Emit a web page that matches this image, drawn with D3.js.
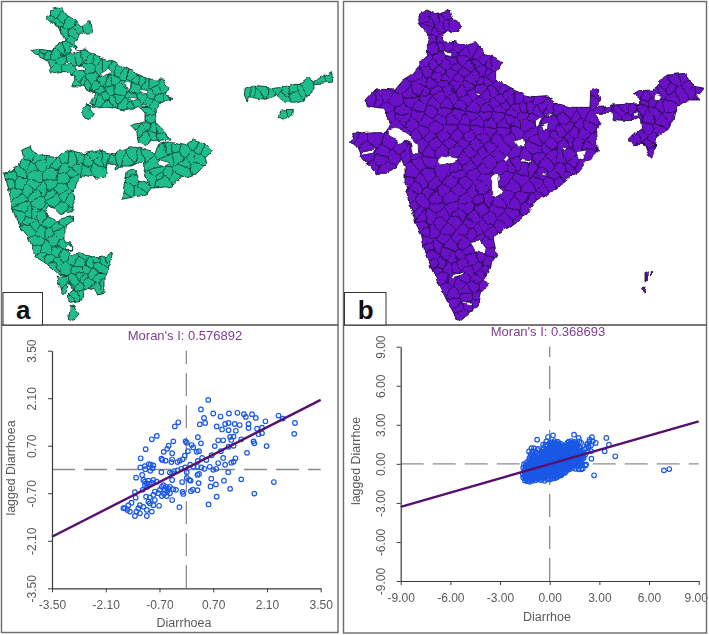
<!DOCTYPE html>
<html><head><meta charset="utf-8">
<script src="https://cdn.jsdelivr.net/npm/d3@7"></script>
<style>html,body{margin:0;padding:0;background:#fff;overflow:hidden}svg{display:block;filter:blur(0.35px)}text{font-family:"Liberation Sans",Arial,sans-serif}</style>
</head><body><svg id="c" width="709" height="635"></svg>
<script>
// ---------- Map a: hotspot districts (map units) ----------
const mapAParts = [
 [[150,30],[185,20],[190,40],[225,60],[240,80],[270,62],[280,98],[240,100],[225,125],[235,140],[225,155],[255,150],[290,170],[335,185],[360,195],[395,215],[435,232],[465,240],[490,240],[510,268],[495,280],[518,298],[480,308],[465,325],[470,370],[495,395],[510,420],[470,425],[450,420],[440,438],[415,425],[410,395],[392,375],[435,365],[435,340],[420,320],[370,330],[330,320],[280,325],[270,310],[285,280],[250,262],[215,260],[225,240],[205,215],[175,215],[155,220],[140,180],[110,165],[92,150],[120,145],[155,150],[180,135],[195,120],[175,80],[150,65],[140,55],[155,45]],
 [[262,310],[272,320],[270,330],[280,345],[270,358],[255,355],[248,340],[250,325]],
 [[735,268],[760,258],[820,265],[845,262],[885,250],[905,250],[925,235],[940,245],[970,228],[995,215],[998,245],[965,250],[940,250],[930,285],[905,305],[875,310],[850,305],[830,285],[800,298],[770,295],[745,290],[742,305],[733,285]],
 [[842,330],[880,328],[878,345],[860,355],[848,360],[838,350]],
 [[65,450],[90,440],[95,455],[125,465],[175,470],[195,450],[245,462],[295,452],[320,460],[345,465],[360,450],[395,440],[440,450],[465,462],[480,432],[520,425],[560,435],[580,420],[625,440],[640,455],[615,470],[620,490],[590,520],[540,535],[510,560],[450,565],[440,585],[405,590],[365,598],[375,545],[382,512],[405,510],[418,540],[445,548],[432,510],[430,480],[395,498],[360,498],[342,510],[345,490],[325,490],[315,530],[290,535],[250,525],[235,545],[220,570],[225,605],[215,635],[180,640],[165,625],[145,620],[135,645],[165,660],[220,648],[222,660],[195,680],[195,725],[215,730],[215,750],[200,752],[215,770],[240,755],[262,770],[300,770],[338,760],[330,795],[315,830],[315,880],[290,885],[280,865],[250,875],[245,900],[210,908],[208,880],[220,870],[205,845],[200,880],[190,880],[168,830],[205,825],[180,825],[150,800],[130,785],[105,770],[85,710],[60,680],[35,610],[15,520],[50,500],[70,470]],
 [[212,918],[225,915],[237,945],[222,962],[205,955]]
];
const mapAHoles = [
 [[225,198],[250,195],[255,210],[235,212]],[[300,222],[325,205],[335,215],[315,228]],[[372,245],[390,250],[388,268],[375,265]],
 [[420,268],[445,272],[440,282],[425,278]],[[385,290],[415,295],[400,303]],[[425,310],[440,315],[430,320]],
 [[205,138],[243,155],[215,163]],[[195,185],[210,190],[200,198]],[[480,478],[508,490],[490,498],[475,490]],[[198,736],[212,734],[212,748],[200,748]]
];
const mapASeeds = [[165,40],[170,70],[205,70],[195,100],[235,85],[260,80],[215,120],[110,155],[145,165],[180,150],[155,190],[185,180],[215,175],[255,165],[285,185],[320,200],[265,200],[240,235],[275,240],[355,215],[395,225],[425,245],[345,240],[310,245],[260,250],[300,270],[330,270],[360,270],[405,265],[460,255],[490,265],[450,285],[480,295],[300,300],[340,300],[375,310],[410,310],[445,305],[265,335],[450,355],[420,390],[460,385],[490,405],[435,415],[755,275],[790,275],[815,280],[860,270],[890,285],[920,265],[965,238],[985,230],[855,340],[870,340],[85,460],[80,500],[125,490],[170,490],[215,480],[260,480],[300,480],[295,510],[360,475],[400,465],[440,465],[505,445],[555,450],[600,445],[530,475],[575,475],[595,500],[545,510],[505,520],[460,495],[455,535],[400,540],[385,575],[420,575],[490,545],[35,530],[60,515],[105,530],[150,525],[195,530],[240,505],[45,580],[85,570],[130,565],[180,570],[210,600],[190,625],[70,620],[115,605],[160,600],[85,660],[125,650],[170,680],[125,700],[90,690],[160,720],[115,745],[145,775],[185,730],[175,790],[200,800],[235,790],[270,790],[310,780],[240,830],[280,820],[310,850],[265,850],[235,860],[225,890],[195,850],[220,940],
 [150,50],[185,55],[175,100],[220,100],[205,140],[125,165],[165,165],[135,150],[170,205],[200,205],[235,170],[270,180],[300,200],[335,205],[370,225],[410,240],[250,245],[225,250],[290,255],[325,250],[375,255],[440,255],[470,270],[500,290],[280,295],[315,290],[355,295],[395,290],[430,295],[465,315],[320,310],[395,320],[445,340],[405,375],[440,375],[480,385],[455,410],[850,285],[875,265],[905,275],[775,285],[745,275],[830,270],[120,475],[150,480],[195,478],[240,475],[280,465],[320,475],[335,480],[380,480],[420,470],[485,450],[525,445],[580,435],[615,450],[510,480],[555,490],[600,480],[525,530],[470,515],[480,530],[430,560],[395,515],[375,590],[30,550],[25,505],[60,550],[90,505],[100,555],[150,555],[190,505],[215,520],[255,510],[60,600],[105,585],[150,580],[195,590],[225,545],[200,640],[85,640],[60,650],[105,640],[145,635],[100,680],[150,665],[195,660],[145,700],[110,725],[140,745],[180,700],[170,755],[130,770],[190,770],[160,800],[220,780],[255,765],[290,780],[325,775],[235,810],[260,810],[295,800],[250,835],[295,835],[285,860],[225,840],[205,865],[240,885],[215,900]];

// ---------- Map b: all districts ----------
const mapBParts = [
 [[237,40],[262,30],[285,42],[330,30],[340,62],[365,75],[355,97],[320,92],[305,105],[315,122],[345,125],[380,135],[410,128],[435,160],[460,172],[495,188],[470,210],[470,240],[510,265],[555,285],[590,292],[625,290],[650,310],[700,322],[750,322],[752,272],[775,265],[782,300],[768,322],[815,320],[815,340],[790,340],[760,340],[780,365],[770,400],[775,450],[735,490],[715,515],[700,525],[650,565],[590,600],[545,655],[510,680],[460,710],[470,770],[455,790],[445,820],[430,840],[445,855],[425,875],[415,915],[395,935],[365,960],[345,950],[310,880],[285,830],[255,760],[245,710],[225,660],[205,600],[195,540],[195,500],[185,475],[165,505],[135,520],[115,520],[75,490],[60,470],[60,462],[50,440],[32,425],[42,400],[65,398],[100,395],[135,395],[150,375],[130,325],[82,318],[78,300],[105,270],[130,268],[165,270],[190,240],[215,225],[235,200],[245,180],[262,165],[262,135],[272,118],[255,90],[237,70]],
 [[815,312],[895,308],[905,298],[880,280],[900,272],[940,270],[955,245],[985,225],[1035,220],[1060,255],[1090,262],[1085,285],[1065,282],[1080,300],[1040,300],[1010,320],[1000,355],[985,385],[950,410],[945,445],[935,475],[925,465],[910,425],[895,440],[875,438],[865,420],[885,400],[905,385],[900,350],[870,365],[820,362],[815,340]],
 [[915,818],[922,815],[920,845],[915,845]],[[930,815],[936,815],[932,832]],[[908,865],[918,865],[913,878]]
];
const mapBHoles = [
 [[310,155],[335,155],[335,170],[315,165]],[[405,272],[425,275],[420,282]],
 [[145,390],[170,385],[200,395],[220,420],[235,435],[235,462],[220,460],[215,430],[190,420],[180,435],[170,420],[145,405]],
 [[62,458],[105,445],[95,460],[64,465]],[[290,480],[305,465],[355,475],[345,488],[300,495]],[[545,358],[555,362],[548,365]],
 [[585,365],[610,350],[600,375],[590,385]],[[620,338],[645,345],[625,348]],[[605,378],[628,370],[625,388],[608,388]],
 [[520,420],[550,415],[555,440],[535,440]],[[490,480],[505,462],[510,475],[498,488]],[[545,475],[570,480],[572,487],[545,485]],
 [[670,440],[680,445],[672,458]],[[705,455],[740,450],[730,480],[712,475]],[[592,525],[610,518],[628,528],[605,525]],
 [[455,525],[475,520],[480,565],[488,570],[475,590],[455,585]],[[390,725],[420,720],[438,745],[435,762],[405,752]],
 [[330,830],[375,815],[365,828],[335,836]],[[365,908],[395,905],[385,918]],[[945,282],[962,290],[955,302],[942,300]],[[880,340],[900,335],[895,348],[882,348]]
];
const mapBSeeds = [[255,50],[285,60],[320,50],[265,85],[300,80],[340,75],[275,115],[305,115],[285,145],[320,140],[355,145],[395,150],[430,180],[460,195],[260,180],[295,175],[335,185],[370,180],[410,190],[445,215],[225,225],[265,215],[300,210],[335,220],[370,215],[405,225],[440,245],[475,255],[190,260],[235,265],[275,250],[310,250],[345,255],[385,255],[420,265],[460,275],[500,285],[535,300],[115,300],[165,305],[215,305],[260,295],[300,290],[340,295],[380,300],[420,305],[460,310],[495,315],[530,325],[570,320],[610,315],[650,330],[690,340],[730,340],[145,350],[190,355],[235,345],[275,335],[315,335],[355,340],[395,345],[435,345],[475,350],[510,360],[545,345],[580,350],[640,370],[680,380],[720,370],[755,355],[60,420],[105,420],[150,430],[85,470],[125,480],[160,470],[200,400],[250,395],[290,380],[330,385],[370,385],[410,390],[450,395],[490,395],[530,395],[570,400],[610,410],[650,410],[690,420],[735,400],[760,420],[200,465],[245,440],[285,430],[330,430],[370,430],[410,435],[450,440],[490,440],[530,455],[580,445],[620,445],[660,470],[700,490],[745,460],[215,510],[260,480],[370,475],[410,480],[450,485],[530,490],[575,510],[620,490],[665,510],[225,560],[265,530],[310,520],[355,520],[400,525],[440,540],[500,530],[545,540],[590,550],[630,550],[680,530],[225,620],[265,580],[310,570],[355,570],[400,575],[440,600],[500,590],[550,590],[600,590],[250,650],[290,620],[335,620],[380,620],[425,630],[470,630],[520,640],[560,625],[260,700],[300,670],[345,665],[390,670],[435,680],[480,680],[270,740],[310,715],[355,710],[395,700],[445,730],[285,790],[320,760],[360,765],[400,780],[445,785],[305,830],[345,800],[385,815],[425,820],[320,870],[360,850],[400,860],[430,860],[345,910],[380,890],[405,915],[365,940],[770,290],[790,320],[840,335],[875,330],[905,325],[920,295],[945,280],[975,250],[1010,240],[1045,260],[1070,275],[1000,290],[960,320],[930,350],[970,360],[920,390],[955,395],[890,415],[925,430],[940,455],
 [270,65],[305,60],[285,95],[320,75],[300,140],[340,160],[375,160],[415,165],[445,195],[280,195],[315,195],[350,200],[390,200],[425,210],[455,230],[245,245],[290,230],[320,235],[355,235],[390,240],[425,245],[490,270],[210,280],[255,275],[290,270],[325,270],[365,275],[400,285],[440,290],[480,295],[515,300],[560,300],[600,300],[135,285],[95,300],[140,325],[190,330],[235,320],[280,312],[320,312],[360,318],[400,322],[440,325],[478,330],[515,340],[550,320],[590,335],[630,325],[670,355],[710,355],[170,375],[215,375],[260,365],[300,358],[335,360],[375,362],[415,368],[455,372],[492,372],[530,370],[560,375],[660,395],[700,400],[745,380],[225,405],[270,410],[310,405],[350,408],[390,410],[430,415],[470,418],[510,420],[590,420],[630,430],[670,435],[715,430],[745,440],[40,410],[80,440],[130,455],[100,500],[140,505],[175,445],[225,465],[265,455],[305,452],[350,450],[390,455],[430,460],[470,465],[510,500],[555,465],[600,470],[640,470],[680,460],[720,500],[240,490],[350,505],[390,500],[430,505],[490,505],[555,510],[600,520],[645,530],[690,505],[210,545],[245,545],[285,550],[330,545],[378,550],[420,560],[520,560],[565,565],[610,570],[655,545],[210,590],[245,600],[285,595],[330,595],[378,598],[420,600],[475,610],[525,615],[575,600],[235,635],[270,650],[312,645],[358,645],[402,650],[448,655],[495,660],[535,665],[245,680],[280,695],[322,690],[368,690],[412,695],[455,700],[260,720],[290,740],[332,735],[375,735],[420,715],[450,760],[275,770],[300,790],[340,775],[380,750],[425,770],[295,810],[325,805],[365,790],[410,800],[440,810],[335,835],[372,835],[410,835],[338,880],[380,870],[415,885],[355,925],[385,920],[800,330],[855,320],[890,345],[860,350],[830,350],[915,310],[895,290],[935,305],[990,265],[960,275],[1030,235],[1060,275],[1020,280],[985,320],[945,340],[985,350],[905,405],[940,415],[875,425],[905,440],[765,300]];

// ---------- Moran scatter a ----------
const moranTitleA = "Moran's I: 0.576892", moranTitleB = "Moran's I: 0.368693";
const xLabelA = "Diarrhoea", yLabelA = "lagged Diarrhoea", xLabelB = "Diarrhoe", yLabelB = "lagged Diarrhoe";
const ticksA = [-3.5,-2.1,-0.7,0.7,2.1,3.5];
const ticksB = [-9,-6,-3,0,3,6,9];
const fitA = [[-3.5,-1.98],[3.5,2.05]];
const fitB = [[-9,-3.3],[9,3.27]];
const scatterA = [[.57,2.05],[.38,1.77],[.70,1.65],[.89,1.56],[1.11,1.65],[1.33,1.67],[1.50,1.63],[1.55,1.55],[1.71,1.63],[1.81,1.52],[2.40,1.59],[2.51,1.50],[2.83,1.37],[2.81,1.05],[2.06,1.42],[1.97,1.23],[1.84,1.20],[1.97,1.07],[1.88,1.04],[1.75,.83],[1.77,.77],[2.09,.69],[1.58,.49],[.46,1.52],[.49,1.37],[.35,1.33],[-.21,1.39],[-.30,1.27],[-.77,.99],[-.90,.89],[.79,1.27],[.93,1.18],[1.01,1.34],[1.10,1.37],[1.26,1.34],[1.39,1.31],[1.62,1.34],[1.62,1.22],[1.29,1.14],[1.10,1.16],[1.23,.97],[1.14,.96],[1.17,.87],[1.43,.89],[.83,.86],[.96,.86],[.30,.95],[.38,.77],[-.02,.83],[.01,.79],[.14,.72],[.18,.65],[.04,.54],[.27,.52],[.33,.54],[.74,.69],[.90,.54],[1.10,.67],[1.23,.70],[.66,.42],[-.34,.83],[-.46,.70],[-.50,.61],[-1.06,.60],[-.59,.52],[-.37,.48],[-1.19,.33],[-.65,.32],[-.63,.28],[-.54,.26],[-.37,.30],[-.39,.22],[-.04,.41],[-.10,.30],[-.23,.22],[-.17,.26],[.30,.25],[.41,.34],[.52,.28],[.96,.34],[1.28,.33],[.83,.19],[1.01,.14],[1.17,.20],[1.23,.23],[.61,.08],[.78,.02],[.70,-.01],[-1.20,.06],[-1.08,.10],[-.98,.16],[-.93,.14],[-.86,.12],[-.88,.04],[-.94,-.04],[-1.07,.01],[-.65,-.08],[-1.31,-.24],[-1.15,-.16],[-.37,-.11],[-.43,-.09],[-.32,-.05],[-.23,-.03],[-.13,.02],[-.03,.06],[.10,.14],[.19,.08],[.29,.08],[.39,.06],[.47,.02],[1.09,-.08],[.01,-.08],[.29,-.16],[.33,-.13],[.08,-.31],[.11,-.33],[.01,-.25],[-.11,-.37],[-.37,-.31],[.32,-.40],[.65,-.27],[.98,-.33],[1.43,-.29],[2.28,-.37],[.77,-.44],[.63,-.50],[1.14,-.57],[.17,-.59],[.12,-.64],[.29,-.61],[-.10,-.66],[-.08,-.72],[.79,-.80],[1.77,-.71],[.58,-1.03],[-.18,-1.11],[-1.12,-.31],[-1.08,-.36],[-1.03,-.41],[-.99,-.33],[-1.08,-.46],[-1.02,-.51],[-.95,-.44],[-.90,-.39],[-.86,-.31],[-.77,-.36],[-1.14,-.60],[-1.34,-.67],[-1.32,-.83],[-1.43,-.98],[-1.51,-1.05],[-.60,-.46],[-.53,-.51],[-.47,-.56],[-.43,-.51],[-.56,-.60],[-.50,-.65],[-.43,-.70],[-.58,-.72],[-.64,-.78],[-.51,-.78],[-.37,-.90],[-.69,-.60],[-.73,-.70],[-.82,-.65],[-.86,-.75],[-.95,-.82],[-.99,-.95],[-1.05,-.80],[-.82,-.90],[-.71,-1.07],[-.86,-1.05],[-.95,-1.00],[-1.03,-1.19],[-1.12,-1.10],[-1.21,-1.05],[-1.25,-1.14],[-1.30,-1.24],[-1.21,-1.29],[-1.34,-1.37],[-1.47,-1.24],[-1.60,-1.14],[-1.64,-1.14],[-1.54,-1.19],[-1.03,-1.37],[-.90,-1.24],[-.34,-.58],[-.27,-.60],[-.64,-.51]];

// ---------- Moran scatter b ----------
const scatterB = [[3.42,1.99],[3.58,1.47],[3.32,.96],[3.96,.58],[2.52,.40],[2.68,-.88],[6.9,-.5],[7.22,-.4],[2.41,1.86],[2.55,2.05],[1.47,2.24],[1.75,1.99],[.2,2.19],[-.1,2.06],[-.76,1.86],[-.4,1.47],[-1.1,1.2],[2.78,1.6],
[-1.5,-1.28],[-1.35,-1.33],[-1.2,-1.38],[-1.05,-1.3],[-.85,-1.26],[-.55,-1.24],[-.3,-1.3],[0,-1.2],[.3,-1.1],
[-1.6,-1.05],[-1.42,-1.1],[-1.25,-1.02],[-1.1,-1.08],[-.92,-1.04],[-.75,-1.1],[-.6,-1],[-.42,-1.06],[-.25,-1.02],[-.08,-1.08],[.1,-1],[.27,-.98],[.42,-1.04],[.58,-.92],
[-1.62,-.82],[-1.47,-.76],[-1.3,-.84],[-1.15,-.78],[-.98,-.82],[-.82,-.74],[-.66,-.84],[-.5,-.78],[-.33,-.8],[-.17,-.74],[0,-.82],[.16,-.76],[.33,-.84],[.5,-.78],[.7,-.8],[.85,-.7],
[-1.55,-.55],[-1.38,-.6],[-1.2,-.52],[-1.04,-.58],[-.87,-.54],[-.7,-.6],[-.55,-.52],[-.38,-.56],[-.2,-.5],[-.03,-.58],[.13,-.52],[.3,-.56],[.47,-.5],[.64,-.58],[.8,-.52],[.98,-.56],[1.1,-.46],
[-1.6,-.3],[-1.42,-.26],[-1.25,-.34],[-1.08,-.28],[-.93,-.32],[-.76,-.26],[-.6,-.33],[-.43,-.27],[-.26,-.3],[-.1,-.25],[.08,-.32],[.24,-.28],[.4,-.33],[.57,-.26],[.74,-.3],[.9,-.25],[1.06,-.32],[1.22,-.27],[1.4,-.3],[1.75,-.42],[2.0,-.36],[2.15,-.12],
[-1.55,-.03],[-1.36,-.08],[-1.18,0],[-1,-.06],[-.84,-.02],[-.68,-.07],[-.5,-.01],[-.33,-.05],[-.16,0],[.02,-.06],[.18,-.02],[.36,-.07],[.52,-.01],[.68,-.05],[.85,0],[1,-.06],[1.17,-.02],[1.34,-.07],[1.52,-.01],[1.7,-.05],[1.95,-.1],[2.2,-.05],
[-1.3,.2],[-1.12,.16],[-.95,.24],[-.78,.18],[-.6,.22],[-.44,.16],[-.27,.24],[-.1,.18],[.07,.22],[.24,.16],[.4,.24],[.57,.18],[.75,.22],[.92,.17],[1.08,.24],[1.25,.18],[1.42,.22],[1.6,.17],[1.78,.23],[1.9,.18],
[-1.22,.45],[-1.05,.42],[-.88,.48],[-.7,.43],[-.54,.47],[-.36,.42],[-.2,.48],[-.03,.44],[.14,.47],[.3,.41],[.48,.48],[.65,.43],[.82,.47],[.98,.42],[1.15,.48],[1.33,.44],[1.5,.47],[1.68,.42],[1.85,.48],[2.05,.44],
[-1.15,.72],[-.97,.68],[-.6,.72],[-.45,.67],[-.28,.73],[-.12,.68],[.05,.72],[.22,.67],[.4,.73],[.56,.68],[.73,.72],[.9,.67],[1.07,.73],[1.24,.68],[1.4,.72],[1.58,.67],[1.75,.73],[1.95,.68],[2.15,.72],
[-1.25,.95],[-1.05,.98],[-.85,.92],[-.5,.96],[-.35,.92],[-.15,.98],[0,.93],[.18,.97],[.35,.92],[.52,.98],[.68,.94],[.85,.97],[1,.92],[1.18,.98],[1.35,.93],[1.52,.97],[1.7,.92],[1.9,.98],[2.3,.94],[2.5,.98],
[-.95,1.2],[-.7,1.15],[-.38,1.22],[-.1,1.17],[.1,1.23],[.3,1.18],[.46,1.22],[.62,1.16],[.8,1.22],[.95,1.18],[1.12,1.23],[1.3,1.17],[1.47,1.22],[1.65,1.18],[1.85,1.23],[2.2,1.2],
[-.25,1.48],[.05,1.44],[.22,1.5],[.42,1.42],[.55,1.5],[.78,1.43],[1,1.42],[1.2,1.5],[1.35,1.44],[1.5,1.5],[1.7,1.45],[2.25,1.48],[2.5,1.42],
[-.2,1.72],[.12,1.66],[.3,1.74],[.5,1.68],[1.15,1.7],[1.3,1.74],[1.5,1.68],[1.8,1.72],[2.4,1.68],[2.6,1.74],
[-1.45,-1.17],[-1.28,-1.2],[-1.12,-1.16],[-.98,-1.19],[-.7,-1.17],[-.45,-1.16],[-.15,-1.18],[.12,-1.14],
[-1.52,-.93],[-1.36,-.9],[-1.2,-.94],[-1.02,-.91],[-.85,-.93],[-.68,-.9],[-.52,-.94],[-.34,-.91],[-.16,-.93],[0,-.9],[.18,-.93],[.35,-.9],[.5,-.92],[.7,-.88],
[-1.48,-.68],[-1.3,-.66],[-1.12,-.7],[-.95,-.67],[-.78,-.69],[-.62,-.66],[-.44,-.7],[-.26,-.67],[-.08,-.69],[.08,-.66],[.24,-.69],[.42,-.67],[.58,-.7],[.74,-.66],[.92,-.68],
[-1.5,-.42],[-1.3,-.44],[-1.14,-.4],[-.98,-.43],[-.8,-.41],[-.64,-.44],[-.46,-.4],[-.3,-.43],[-.12,-.41],[.04,-.44],[.2,-.4],[.38,-.43],[.54,-.41],[.72,-.44],[.88,-.4],[1.04,-.43],[1.2,-.41],[1.55,-.38],[1.9,-.42],
[-1.46,-.16],[-1.28,-.14],[-1.1,-.17],[-.92,-.14],[-.76,-.16],[-.58,-.13],[-.42,-.17],[-.24,-.14],[-.08,-.16],[.1,-.13],[.28,-.17],[.44,-.14],[.6,-.16],[.78,-.13],[.94,-.17],[1.1,-.14],[1.26,-.16],[1.44,-.13],[1.62,-.15],[1.84,-.14],
[-1.42,.08],[-1.22,.06],[-1.04,.09],[-.86,.07],[-.7,.1],[-.52,.06],[-.36,.09],[-.18,.07],[-.02,.1],[.16,.06],[.32,.09],[.48,.07],[.66,.1],[.84,.07],[1,.09],[1.16,.06],[1.34,.1],[1.5,.07],[1.7,.09],[1.86,.06],
[-1.18,.33],[-1,.31],[-.84,.34],[-.66,.32],[-.5,.35],[-.32,.31],[-.16,.34],[.02,.32],[.2,.35],[.36,.31],[.54,.34],[.7,.32],[.88,.35],[1.04,.31],[1.22,.34],[1.4,.32],[1.56,.35],[1.72,.31],[1.95,.33],
[-1.1,.58],[-.9,.56],[-.62,.6],[-.46,.57],[-.28,.59],[-.12,.56],[.06,.6],[.22,.57],[.38,.59],[.56,.56],[.72,.6],[.88,.57],[1.06,.59],[1.22,.56],[1.4,.6],[1.56,.57],[1.76,.59],[2,.56],
[-1.02,.84],[-.86,.8],[-.52,.85],[-.36,.81],[-.2,.84],[-.04,.8],[.14,.85],[.3,.81],[.48,.84],[.64,.8],[.82,.85],[.98,.81],[1.14,.84],[1.3,.8],[1.48,.85],[1.66,.81],[1.84,.84],[2.05,.8],
[-.75,1.06],[-.42,1.08],[-.24,1.05],[-.06,1.09],[.1,1.06],[.28,1.09],[.44,1.05],[.6,1.08],[.78,1.05],[.94,1.09],[1.1,1.05],[1.28,1.08],[1.44,1.05],[1.62,1.09],[1.8,1.06],[2.1,1.08],
[-.2,1.34],[.0,1.3],[.18,1.35],[.36,1.31],[.54,1.34],[.72,1.3],[.9,1.35],[1.08,1.31],[1.26,1.34],[1.44,1.31],[1.62,1.35],[1.8,1.3],[2.35,1.32],
[.0,1.6],[.2,1.58],[.38,1.62],[.66,1.56],[1.06,1.6],[1.24,1.57],[1.42,1.62],[1.62,1.58],[1.9,1.6],[2.3,1.56]];

// ---------- Drawing ----------
const svg = d3.select("#c");
const DARKLINE = "#3a3a3a", TICKTXT = "#5a5a5a", TITLE = "#7d3f92", LINE = "#57106e", DOT = "#1a58e6", DASH = "#8c8c8c", FRAME = "#6b6b6b";
const fmt = v => d3.format(".2f")(v).replace("\u2212", "-");

// hand-drawn border character for the map outlines
const defs = svg.append("defs");
const wob = defs.append("filter").attr("id", "wobble").attr("filterUnits", "userSpaceOnUse")
  .attr("x", 0).attr("y", 0).attr("width", 709).attr("height", 330).attr("color-interpolation-filters", "sRGB");
wob.append("feTurbulence").attr("type", "fractalNoise").attr("baseFrequency", 0.11).attr("numOctaves", 2).attr("seed", 4).attr("result", "n");
wob.append("feDisplacementMap").attr("in", "SourceGraphic").attr("in2", "n").attr("scale", 6).attr("xChannelSelector", "R").attr("yChannelSelector", "G");

function drawMap(id, parts, holes, seeds, fill, stroke, box, dom) {
  const x = d3.scaleLinear().domain([0, dom[0]]).range([box[0], box[0] + box[2]]);
  const y = d3.scaleLinear().domain([0, dom[1]]).range([box[1], box[1] + box[3]]);
  const line = d3.line().x(d => x(d[0])).y(d => y(d[1])).curve(d3.curveLinearClosed);
  const g = svg.append("g").attr("filter", "url(#wobble)");
  const cp = svg.append("clipPath").attr("id", id);
  parts.forEach(p => cp.append("path").attr("d", line(p)));
  g.selectAll("path.part").data(parts).join("path").attr("class", "part").attr("d", line).attr("fill", fill);
  const pts = seeds.map(s => [x(s[0]), y(s[1])]);
  const vor = d3.Delaunay.from(pts).voronoi([box[0], box[1], box[0] + box[2], box[1] + box[3]]);
  g.append("path").attr("d", vor.render()).attr("fill", "none").attr("stroke", stroke).attr("stroke-width", 0.85).attr("clip-path", `url(#${id})`);
  g.selectAll("path.edge").data(parts).join("path").attr("class", "edge").attr("d", line).attr("fill", "none").attr("stroke", stroke).attr("stroke-width", 0.9);
  g.selectAll("path.hole").data(holes).join("path").attr("class", "hole").attr("d", line).attr("fill", "#fff").attr("stroke", stroke).attr("stroke-width", 0.7);
}
drawMap("clipA", mapAParts, mapAHoles, mapASeeds, "#1fbd8b", "#0c3a2c", [0, 0, 339, 330], [1017, 990]);
drawMap("clipB", mapBParts, mapBHoles, mapBSeeds, "#6a10c6", "#1e0a3c", [340, 0, 369, 330], [1107, 990]);

function drawMoran(o) {
  const x = d3.scaleLinear().domain(o.dom).range(o.xr);
  const y = d3.scaleLinear().domain(o.dom).range(o.yr);
  const g = svg.append("g");
  g.append("line").attr("x1", x(o.dom[0])).attr("x2", x(o.dom[1])).attr("y1", y(0)).attr("y2", y(0))
    .attr("stroke", DASH).attr("stroke-width", 1.3).attr("stroke-dasharray", "23,9");
  g.append("line").attr("x1", x(0)).attr("x2", x(0)).attr("y1", y(o.dom[0])).attr("y2", y(o.dom[1]))
    .attr("stroke", DASH).attr("stroke-width", 1.3).attr("stroke-dasharray", "23,9");
  g.selectAll("circle").data(o.pts).join("circle").attr("cx", d => x(d[0])).attr("cy", d => y(d[1]))
    .attr("r", 2.3).attr("fill", "none").attr("stroke", DOT).attr("stroke-width", 1.2);
  g.append("path").attr("d", d3.line().x(d => x(d[0])).y(d => y(d[1]))(o.fit)).attr("stroke", LINE).attr("stroke-width", 2.4).attr("fill", "none");
  const ax = g.append("g").attr("transform", `translate(0,${o.yr[0]})`)
    .call(d3.axisBottom(x).tickValues(o.ticks).tickFormat(fmt).tickSize(4).tickSizeOuter(0));
  const ay = g.append("g").attr("transform", `translate(${o.xr[0]},0)`)
    .call(d3.axisLeft(y).tickValues(o.ticks).tickFormat(fmt).tickSize(4).tickSizeOuter(0));
  [ax, ay].forEach(a => {
    a.select(".domain").attr("stroke", DARKLINE).attr("stroke-width", 1.2);
    a.selectAll(".tick line").attr("stroke", DARKLINE).attr("stroke-width", 1);
    a.selectAll("text").attr("font-family", '"Liberation Sans",Arial,sans-serif').attr("font-size", 12).attr("fill", TICKTXT);
  });
  ax.selectAll("text").attr("dy", null).attr("y", 21).attr("dx", (d, i) => (o.lastShift && i === o.ticks.length - 1) ? -o.lastShift : 0);
  ay.selectAll("text").attr("text-anchor", "middle").attr("dy", null).attr("x", null).attr("y", null)
    .attr("transform", `translate(-16,0) rotate(-90)`);
  g.append("text").attr("x", o.titleX).attr("y", o.titleY).attr("text-anchor", "middle").attr("font-size", 13).attr("fill", TITLE).text(o.title);
  g.append("text").attr("x", o.titleX - 1).attr("y", o.xlabelY).attr("text-anchor", "middle").attr("font-size", 12.5).attr("fill", TICKTXT).text(o.xlabel);
  g.append("text").attr("transform", `translate(${o.ylabelX},${o.ylabelC}) rotate(-90)`).attr("text-anchor", "middle").attr("font-size", 12.4).attr("fill", TICKTXT).text(o.ylabel);
}
drawMoran({dom:[-3.5,3.5], xr:[52,320.7], yr:[588.3,350.7], ticks:ticksA, pts:scatterA, fit:fitA, title:moranTitleA, titleX:185, titleY:339.5, xlabel:xLabelA, xlabelY:627, ylabel:yLabelA, ylabelX:15, ylabelC:468});
drawMoran({dom:[-9,9], xr:[400.7,698.7], yr:[581,346.7], ticks:ticksB, pts:scatterB, fit:fitB, title:moranTitleB, titleX:548, titleY:336, xlabel:xLabelB, xlabelY:620.5, ylabel:yLabelB, ylabelX:360, ylabelC:461, lastShift:3});

// frames
const frames = [[1.5,1.5,336.5,323.5],[1.5,325,336.5,307.5],[343.5,1.5,363,323.5],[343.5,325,363,308]];
svg.selectAll("rect.frame").data(frames).join("rect").attr("class", "frame")
  .attr("x", d => d[0]).attr("y", d => d[1]).attr("width", d => d[2]).attr("height", d => d[3])
  .attr("fill", "none").attr("stroke", FRAME).attr("stroke-width", 1.4);

// panel letters
const panelLetters = ["a", "b"];
const panelBoxes = [[3,292.5,39.5,32.5],[344.5,292.5,41.5,32.5]];
panelLetters.forEach((t, i) => {
  const b = panelBoxes[i];
  svg.append("rect").attr("x", b[0]).attr("y", b[1]).attr("width", b[2]).attr("height", b[3]).attr("fill", "#fff").attr("stroke", "#333").attr("stroke-width", 1);
  svg.append("text").attr("x", b[0] + b[2] / 2 + 0.5).attr("y", b[1] + 26).attr("text-anchor", "middle").attr("font-size", 26).attr("font-weight", "bold").attr("fill", "#111").text(t);
});
</script></body></html>
